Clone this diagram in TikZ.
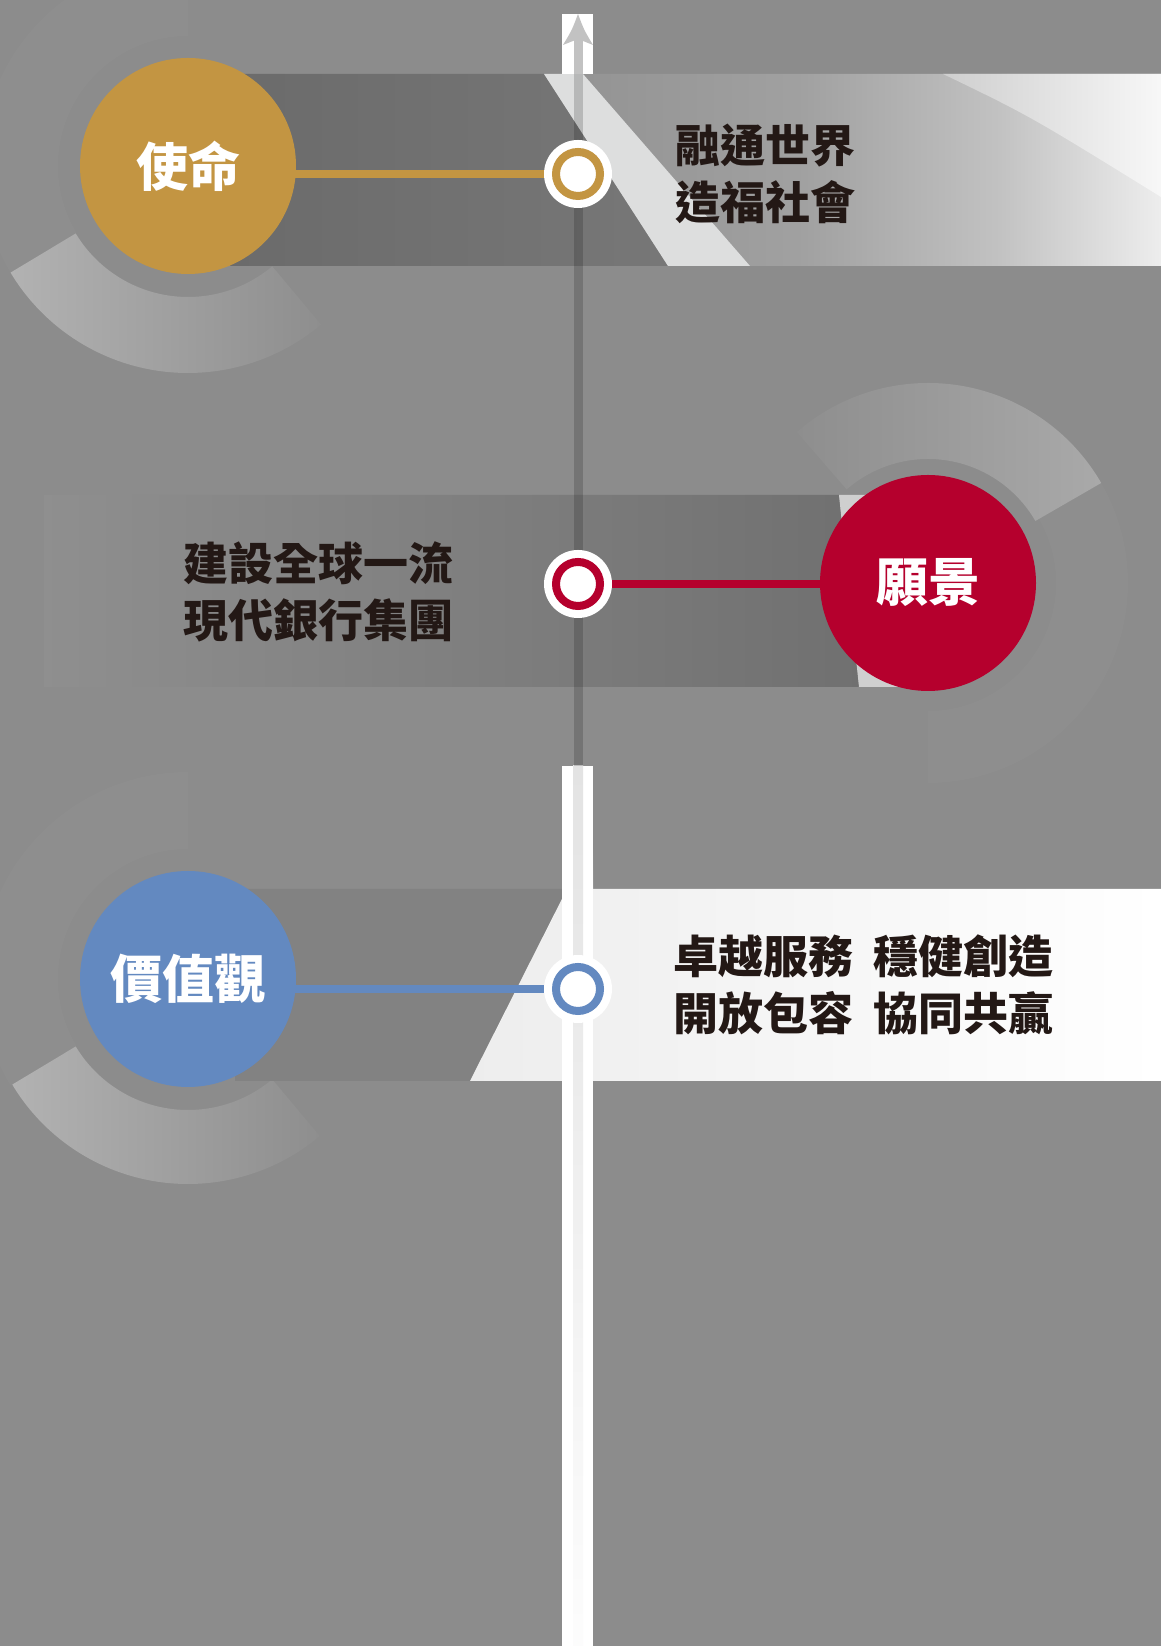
\documentclass[tikz,border=0pt]{standalone}
\usepackage{fontspec}
\newfontfamily\cjk{Noto Sans CJK TC}
\usetikzlibrary{calc}
\pgfdeclarelayer{back}
\pgfsetlayers{back,main}
\definecolor{bg}{HTML}{8C8C8C}
\definecolor{gold}{HTML}{C39542}
\definecolor{wine}{HTML}{B5002D}
\definecolor{steel}{HTML}{6389C0}
\definecolor{ink}{HTML}{231815}
\definecolor{arcl}{HTML}{B2B2B2}
\definecolor{arcd}{HTML}{8E8E8E}
\definecolor{banddk}{HTML}{6B6B6B}
\definecolor{bandmd}{HTML}{777777}
\definecolor{stripe}{HTML}{DDDEDE}
\definecolor{axisgray}{HTML}{C2C2C2}
\pgfdeclarehorizontalshading{bandone}{100bp}{color(0bp)=(black!42); color(25bp)=(black!42); color(44bp)=(black!37); color(61bp)=(black!24); color(75bp)=(black!7); color(100bp)=(black!7)}
\tikzset{
  disc/.style={circle, minimum size=216pt, inner sep=0pt, text=white,
    font=\cjk\bfseries\fontsize{52}{60}\selectfont},
  ringbase/.style={circle, fill=white, minimum size=68pt, inner sep=0pt},
  ringline/.style={circle, fill=white, line width=8pt, minimum size=44pt, inner sep=0pt},
  conn/.style={line width=8pt},
  txt/.style={text=ink, align=left, inner sep=0pt, anchor=west,
    font=\cjk\bfseries\fontsize{45}{57}\selectfont},
  faint/.style={white, opacity=0.02}
}
\begin{document}
\begin{tikzpicture}[x=1pt,y=1pt]
\useasboundingbox (0,0) rectangle (1161,1646);
\begin{pgfonlayer}{back}
\fill[bg] (0,0) rectangle (1161,1646);
% faint rings
\fill[faint] (188,1480) ++(90:207) arc[start angle=90,end angle=211,radius=207] -- ++(211:-77) arc[start angle=211,end angle=90,radius=130] -- cycle;
\fill[faint] (188,667) ++(90:207) arc[start angle=90,end angle=211,radius=207] -- ++(211:-77) arc[start angle=211,end angle=90,radius=130] -- cycle;
\fill[faint] (928,1063) ++(-90:200) arc[start angle=-90,end angle=30,radius=200] -- ++(30:-72) arc[start angle=30,end angle=-90,radius=128] -- cycle;
% arcs
\shade[left color=arcl, right color=arcd] (188,1480) ++(211:207) arc[start angle=211,end angle=310,radius=207] -- ++(310:-76) arc[start angle=310,end angle=211,radius=131] -- cycle;
\shade[left color=arcl, right color=arcd] (188,667) ++(211:205) arc[start angle=211,end angle=310,radius=205] -- ++(310:-74) arc[start angle=310,end angle=211,radius=131] -- cycle;
\shade[left color=arcd, right color=arcl!95!black] (928,1063) ++(30:200) arc[start angle=30,end angle=131,radius=200] -- ++(131:-76) arc[start angle=131,end angle=30,radius=124] -- cycle;
% band 1
\shade[left color=banddk, right color=bandmd] (230,1572) -- (544,1572) -- (668,1380) -- (230,1380) -- cycle;
\shade[shading=bandone] (583,1572) -- (1161,1572) -- (1161,1380) -- (750,1380) -- cycle;
\shade[left color=black!19, right color=black!3] (943,1572) .. controls (1030,1530) .. (1161,1449) -- (1161,1572) -- cycle;
\fill[stripe] (544,1572) -- (583,1572) -- (750,1380) -- (668,1380) -- cycle;
% band 2
\shade[left color=black!44, right color=black!56] (44,1151) -- (839,1151) -- (859,959) -- (44,959) -- cycle;
\fill[black!19] (839,1151) -- (900,1151) -- (920,959) -- (859,959) -- cycle;
% band 3
\fill[black!49] (235,757) -- (567,757) -- (470,565) -- (235,565) -- cycle;
\shade[left color=black!7, right color=white] (567,757) -- (1161,757) -- (1161,565) -- (470,565) -- cycle;
\shade[top color=bg, bottom color=black!8] (567,757) -- (589,801) -- (593,801) -- (593,757) -- cycle;
% vertical strips
\fill[white] (562,1572) rectangle (593,1632);
\fill[white] (562,0) rectangle (593,880);
\shade[top color=black!11, bottom color=black!1] (573,0) rectangle (583,880);
% axis
\coordinate (axbot) at (578,880);
\coordinate (axmid) at (578,1572);
\coordinate (axtip) at (578,1632);
\draw[line width=9pt, black, opacity=0.17] (axbot) -- (axmid);
\fill[axisgray] (573.5,1572) rectangle (582.5,1608);
\fill[axisgray] (axtip) .. controls (572,1616) .. (563,1601) -- (578,1607) -- (593,1601) .. controls (584,1616) .. (axtip) -- cycle;
\end{pgfonlayer}

% circles
\node[disc, fill=gold] (m) at (188,1480) {使命};
\node[disc, fill=wine] (v) at (928,1063) {願景};
\node[disc, fill=steel] (c) at (188,667) {價值觀};

% rings
\node[ringbase] (r1) at (578,1472) {};
\node[ringline, draw=gold] (r1i) at (r1) {};
\node[ringbase] (r2) at (578,1062) {};
\node[ringline, draw=wine] (r2i) at (r2) {};
\node[ringbase] (r3) at (578,657) {};
\node[ringline, draw=steel] (r3i) at (r3) {};

% texts
\node[txt] (t1) at (675,1472.5) {融通世界\\造福社會};
\node[txt] (t2) at (183,1054.5) {建設全球一流\\現代銀行集團};
\node[txt] (t3) at (673,661) {卓越服務\hspace{20pt}穩健創造\\開放包容\hspace{20pt}協同共贏};

\begin{pgfonlayer}{back}
\draw[conn, gold] (m.center |- r1.center) -- (r1.center);
\draw[conn, wine] (v.center |- r2.center) -- (r2.center);
\draw[conn, steel] (c.center |- r3.center) -- (r3.center);
\end{pgfonlayer}
\end{tikzpicture}
\end{document}
